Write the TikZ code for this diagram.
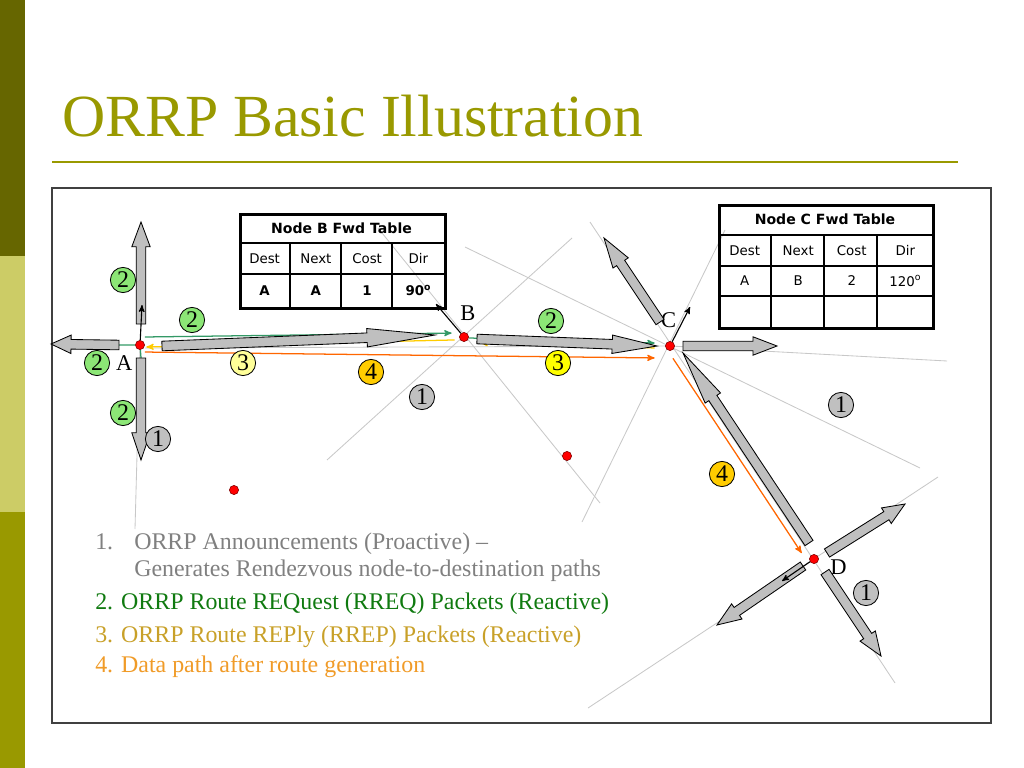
\documentclass[tikz,border=0pt]{standalone}
\usepackage{fontspec}
\setmainfont{Liberation Serif}
\newfontfamily\tabfont{DejaVu Sans}
\usetikzlibrary{positioning}
\usetikzlibrary{arrows}
\usetikzlibrary{calc}
\usetikzlibrary{backgrounds}
\definecolor{olivedark}{HTML}{666600}
\definecolor{olivelight}{HTML}{CCCC66}
\definecolor{olive}{HTML}{999900}
\definecolor{framegray}{HTML}{404040}
\definecolor{arrowgray}{HTML}{BFBFBF}
\definecolor{raygray}{HTML}{C8C8C8}
\definecolor{rreqcol}{HTML}{339966}
\definecolor{rrepcol}{HTML}{FFCC00}
\definecolor{datacol}{HTML}{FF6600}
\definecolor{numgreen}{HTML}{8CE676}
\definecolor{numgray}{HTML}{C0C0C0}
\definecolor{numpale}{HTML}{FFFF99}
\definecolor{numyellow}{HTML}{FFFF00}
\definecolor{numgold}{HTML}{FFCC00}
\definecolor{leggray}{HTML}{808080}
\definecolor{leggreen}{HTML}{107A10}
\definecolor{leggold}{RGB}{200,160,40}
\definecolor{legorange}{RGB}{240,155,40}
\newcommand{\shaftw}{0.12cm}
\newcommand{\headw}{0.23cm}
\tikzset{
    rnode/.style={circle, fill=red, draw=red!50!black, line width=0.4pt,
        inner sep=0pt, minimum size=0.23cm},
    lbl/.style={inner sep=0pt, font=\fontsize{16}{16}\selectfont},
    ray/.style={draw=raygray, line width=0.6pt},
    blockarrow/.style={draw=black, fill=arrowgray, line width=0.6pt, line join=miter},
    rreq/.style={draw=rreqcol, line width=0.9pt, ->, >=stealth'},
    rreqline/.style={draw=rreqcol, line width=0.9pt},
    rrep/.style={draw=rrepcol, line width=0.9pt, ->, >=stealth'},
    datapath/.style={draw=datacol, line width=0.9pt, ->, >=stealth'},
    dirarrow/.style={draw=black, line width=0.8pt, ->, >=stealth'},
    num/.style={circle, draw=black, line width=0.6pt, inner sep=0pt,
        minimum size=0.63cm, font=\fontsize{17}{17}\selectfont},
    num1/.style={num, fill=numgray},
    num2/.style={num, fill=numgreen},
    num3/.style={num, fill=numpale},
    num3b/.style={num, fill=numyellow},
    num4/.style={num, fill=numgold},
    tabframe/.style={draw=black, line width=2pt, inner sep=0pt, anchor=north west},
    tabline/.style={draw=black, line width=0.9pt},
    tabhead/.style={font=\tabfont\bfseries\fontsize{10}{12}\selectfont},
    tabtxt/.style={font=\tabfont\fontsize{9.5}{11}\selectfont},
    tabbold/.style={font=\tabfont\bfseries\fontsize{9.5}{11}\selectfont},
    leg/.style={anchor=base west, inner sep=0pt, font=\fontsize{17}{20}\selectfont},
    title/.style={anchor=base west, inner sep=0pt, text=olive,
        font=\fontsize{42.5}{50}\selectfont}}
\newcommand{\blockarrow}[3]{%
  \draw[blockarrow] let \p1=($(#2)-(#1)$), \n1={atan2(\y1,\x1)} in
    ($(#1)+(\n1+90:\shaftw)$) -- ($(#2)!#3!(#1)+(\n1+90:\shaftw)$) --
    ($(#2)!#3!(#1)+(\n1+90:\headw)$) -- (#2) --
    ($(#2)!#3!(#1)+(\n1-90:\headw)$) -- ($(#2)!#3!(#1)+(\n1-90:\shaftw)$) --
    ($(#1)+(\n1-90:\shaftw)$) -- cycle;}

\begin{document}
\begin{tikzpicture}[x=0.025cm, y=-0.025cm]
    \useasboundingbox (0,0) rectangle (1024,768);
    \fill[olivedark] (0,0) rectangle (25,256);
    \fill[olivelight] (0,256) rectangle (25,512);
    \fill[olive] (0,512) rectangle (25,768);
    \node[title] (title) at (62,137) {ORRP Basic Illustration};
    \draw[olive, line width=1.8pt] (52,162) -- (958,162);
    \draw[framegray, line width=1pt] (52,188) rectangle (991,723);

    \node[rnode] (A) at (140,345) {};
    \node[rnode] (B) at (464,337) {};
    \node[rnode] (C) at (670,346) {};
    \node[rnode] (D) at (814,559) {};
    \node[rnode] (E) at (234,490) {};
    \node[rnode] (F) at (567,456) {};
    \node[lbl, below left=4.8pt and 2.7pt of A] (labA) {A};
    \node[lbl, above=8pt of B, xshift=2.8pt] (labB) {B};
    \node[lbl, above=9.6pt of C, xshift=-1pt] (labC) {C};
    \node[lbl, right=8pt of D, yshift=-6pt] (labD) {D};

    \coordinate (ra1) at (140,345); \coordinate (rb1) at (135,529);
    \coordinate (ra2) at (378,228); \coordinate (rb2) at (600,503);
    \coordinate (ra3) at (327,460); \coordinate (rb3) at (572,238);
    \coordinate (ra4) at (465,247); \coordinate (rb4) at (920,468);
    \coordinate (ra5) at (590,222); \coordinate (rb5) at (895,683);
    \coordinate (ra6) at (725,230); \coordinate (rb6) at (582,522);
    \coordinate (ra7) at (145,348); \coordinate (rb7) at (947,361);
    \coordinate (ra8) at (938,477); \coordinate (rb8) at (588,708);

    \coordinate (aU1) at (141,324);  \coordinate (aU2) at (141,222);
    \coordinate (aL1) at (119,345);  \coordinate (aL2) at (51,344);
    \coordinate (aD1) at (141,358);  \coordinate (aD2) at (141,460);
    \coordinate (aAB1) at (162,346); \coordinate (aAB2) at (435,335);
    \coordinate (aBC1) at (477,339); \coordinate (aBC2) at (657,346);
    \coordinate (aCU1) at (660,322); \coordinate (aCU2) at (604,238);
    \coordinate (aCR1) at (683,346); \coordinate (aCR2) at (777,346);
    \coordinate (aDC1) at (809,543); \coordinate (aDC2) at (683,353);
    \coordinate (aDU1) at (827,553); \coordinate (aDU2) at (905,504);
    \coordinate (aDR1) at (825,572); \coordinate (aDR2) at (881,656);
    \coordinate (aDL1) at (803,566); \coordinate (aDL2) at (717,625);

    \coordinate (Adir) at (142,305);
    \coordinate (Bdir) at (436,304);
    \coordinate (Cdir) at (690,307);
    \coordinate (Ddir) at (782,581);

    \begin{pgfonlayer}{background}
        \foreach \i in {1,...,6,8} \draw[ray] (ra\i) -- (rb\i);
        \draw[ray] (ra7) -- (C) -- (rb7);
        \draw[rreqline] (A) -- (aL1) (A) -- (aD1);
        \draw[rreq] ([yshift=5.7pt]A.east) -- ([xshift=-5.3pt,yshift=2.8pt]B.west);
        \draw[rrep] ([xshift=-3.2pt,yshift=-2.1pt]B.west) -- ([xshift=1pt,yshift=-1.4pt]A.east);
        \draw[datapath] ([yshift=-5pt]A.east) -- ([xshift=-7.4pt,yshift=-8.5pt]C.west);
        \draw[rreq] ([yshift=-0.7pt]B.east) -- ([xshift=-7.4pt,yshift=2.1pt]C.west);
        \draw[rrep] ([xshift=-7.4pt,yshift=-1.4pt]C.west) -- ([xshift=8.1pt,yshift=-4.2pt]B.east);
        \draw[datapath] ([xshift=2.1pt,yshift=-5.3pt]C.south) -- ([xshift=-5.3pt,yshift=4.2pt]D.west);
    \end{pgfonlayer}

    \foreach \a/\h in {aU/0.62cm, aL/0.5cm, aD/0.68cm, aAB/1.7cm, aBC/1.12cm,
        aCU/0.75cm, aCR/0.6cm, aDC/1.35cm, aDU/0.55cm, aDR/0.6cm, aDL/0.6cm}
        \blockarrow{\a1}{\a2}{\h};

    \draw[dirarrow] (A) -- (Adir);
    \draw[dirarrow] (B) -- (Bdir);
    \draw[dirarrow] (C) -- (Cdir);
    \draw[dirarrow] (D) -- (Ddir);

    \node[num2] (n2a) at (123,280) {2};
    \node[num2] (n2b) at (192,320) {2};
    \node[num2] (n2c) at (97,363) {2};
    \node[num2] (n2d) at (123,413) {2};
    \node[num2] (n2e) at (551,321) {2};
    \node[num1] (n1a) at (158,439) {1};
    \node[num1] (n1b) at (422,397) {1};
    \node[num1] (n1c) at (841,405) {1};
    \node[num1] (n1d) at (866,593) {1};
    \node[num3] (n3a) at (243,363) {3};
    \node[num3b] (n3b) at (558,363) {3};
    \node[num4] (n4a) at (371,372) {4};
    \node[num4] (n4b) at (722,474) {4};

    \node[tabframe, minimum width=5.125cm, minimum height=2.35cm] (tabB) at (239,213) {};
    \draw[tabline] (239,243) -- (444,243) (239,274) -- (444,274);
    \foreach \x in {290,341,392} \draw[tabline] (\x,243) -- (\x,307);
    \node[tabhead] (tabBh) at (341.5,228) {Node B Fwd Table};
    \foreach \t [count=\i] in {Dest,Next,Cost,Dir}
        \node[tabtxt] (tabBa\i) at ({239+51.25*(\i-0.5)},258.5) {\t};
    \foreach \t [count=\i] in {A,A,1,{90\textsuperscript{o}}}
        \node[tabbold] (tabBb\i) at ({239+51.25*(\i-0.5)},290.5) {\t};

    \node[tabframe, minimum width=5.35cm, minimum height=3.075cm] (tabC) at (718,204) {};
    \foreach \y in {235,266,296} \draw[tabline] (718,\y) -- (932,\y);
    \foreach \x in {771,824,877} \draw[tabline] (\x,235) -- (\x,327);
    \node[tabhead] (tabCh) at (825,219.5) {Node C Fwd Table};
    \foreach \t [count=\i] in {Dest,Next,Cost,Dir}
        \node[tabtxt] (tabCa\i) at ({718+53.5*(\i-0.5)},250.5) {\t};
    \foreach \t [count=\i] in {A,B,2,{120\textsuperscript{o}}}
        \node[tabtxt] (tabCb\i) at ({718+53.5*(\i-0.5)},281) {\t};

    \node[leg, text=leggray] (leg1n) at (95,549) {1.};
    \node[leg, text=leggray] (leg1) at (134,549) {ORRP Announcements (Proactive) --};
    \node[leg, text=leggray] (leg1b) at (134,576) {Generates Rendezvous node-to-destination paths};
    \node[leg, text=leggreen] (leg2) at (95,609) {2. ORRP Route REQuest (RREQ) Packets (Reactive)};
    \node[leg, text=leggold] (leg3) at (95,642) {3. ORRP Route REPly (RREP) Packets (Reactive)};
    \node[leg, text=legorange] (leg4) at (95,672) {4. Data path after route generation};
\end{tikzpicture}
\end{document}
